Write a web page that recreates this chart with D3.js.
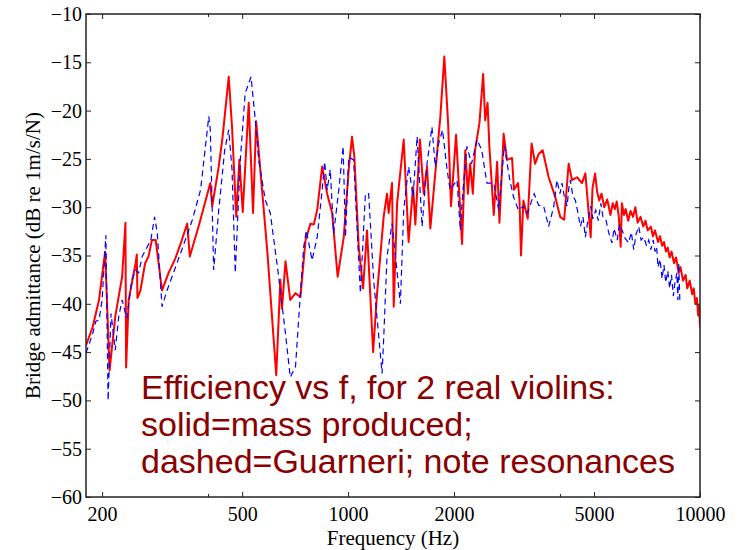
<!DOCTYPE html>
<html>
<head>
<meta charset="utf-8">
<script src="https://cdn.jsdelivr.net/npm/d3@7"></script>
<style>
  body { margin: 0; background: #fff; }
  svg { display: block; }
</style>
</head>
<body>
<div id="chart"></div>
<script>
// solid red = mass produced violin
const solidFreq = [180, 188, 196, 204, 210, 218, 228, 233, 234, 238, 249, 251, 252, 257, 265, 271, 277, 284, 296, 309,
  323, 337, 349, 355, 376, 406, 411, 429, 440, 458, 468, 481, 491, 502, 522, 537, 548, 589, 625, 642,
  649, 664, 685, 709, 732, 757, 782, 799, 817, 844, 872, 901, 934, 972, 1004, 1026, 1042, 1072, 1103, 1132,
  1178, 1209, 1262, 1290, 1304, 1333, 1348, 1378, 1439, 1486, 1530, 1553, 1600, 1640, 1676, 1713, 1769, 1829, 1877, 1924,
  1961, 2027, 2108, 2153, 2190, 2223, 2262, 2295, 2362, 2420, 2452, 2491, 2520, 2594, 2652, 2692, 2767, 2830, 2924, 2960,
  3040, 3070, 3100, 3149, 3240, 3322, 3400, 3479, 3572, 3715, 3876, 4006, 4112, 4234, 4328, 4473, 4621, 4724, 4891, 4950,
  5035, 5100, 5173, 5250, 5345, 5450, 5566, 5650, 5730, 5800, 5879, 5951, 6000, 6080, 6150, 6250, 6350, 6450, 6550, 6650,
  6775, 6900, 7000, 7100, 7250, 7350, 7450, 7600, 7700, 7800, 7900, 8000, 8100, 8200, 8300, 8440, 8550, 8700, 8800, 8950,
  9100, 9200, 9350, 9500, 9600, 9700, 9800, 9880, 9940, 10000];
const solidDb = [-44.3, -42.4, -39.6, -34.6, -46.9, -41.3, -37.2, -31.6, -46.6, -39.6, -35.8, -34.9, -39.4, -38.6, -35.8, -35.1, -33.4, -33.4, -38.6, -36.8,
  -35.3, -33.4, -31.7, -35.1, -32.0, -27.5, -29.9, -25.8, -22.7, -16.5, -21.7, -31.0, -25.1, -30.5, -19.2, -30.6, -21.1, -34.4, -47.4, -37.5,
  -40.5, -35.6, -39.6, -38.9, -39.3, -33.4, -31.7, -31.8, -30.3, -25.8, -28.6, -30.6, -37.2, -33.1, -26.1, -22.7, -24.8, -34.1, -38.4, -32.4,
  -45.0, -38.9, -31.0, -28.6, -30.6, -27.5, -40.3, -29.6, -23.0, -33.6, -27.9, -31.8, -23.0, -28.6, -25.8, -32.2, -26.5, -20.6, -14.4, -21.3,
  -29.9, -22.5, -33.8, -24.1, -28.6, -25.5, -28.6, -24.1, -21.3, -16.2, -21.0, -19.2, -23.7, -30.8, -25.3, -31.6, -22.4, -25.1, -24.9, -28.2,
  -27.5, -29.3, -35.0, -29.3, -31.2, -23.4, -25.5, -24.5, -24.1, -26.9, -28.9, -31.0, -31.3, -25.5, -27.2, -26.9, -27.5, -26.5, -33.1, -28.0,
  -26.5, -28.4, -29.3, -28.6, -30.0, -29.2, -30.8, -29.6, -30.2, -29.4, -31.0, -34.1, -29.6, -30.8, -30.2, -31.4, -30.4, -31.0, -30.0, -31.6,
  -31.0, -32.0, -31.4, -32.4, -32.0, -33.0, -32.4, -33.6, -33.0, -34.0, -33.6, -34.6, -34.2, -35.2, -34.6, -35.8, -35.2, -36.8, -36.2, -37.6,
  -37.0, -38.4, -37.6, -39.0, -38.4, -40.0, -39.4, -41.2, -40.2, -42.4];

// dashed blue = Guarneri
const dashedFreq = [180, 188, 192, 196, 200, 205, 208, 212, 218, 223, 228, 235, 243, 249, 254, 260, 275, 282, 287, 296,
  306, 316, 337, 361, 381, 402, 406, 415, 429, 446, 458, 468, 478, 494, 510, 530, 545, 557, 582, 601,
  635, 664, 685, 709, 732, 748, 761, 790, 817, 844, 858, 872, 890, 910, 941, 968, 983, 1004, 1037, 1084,
  1120, 1144, 1182, 1249, 1262, 1290, 1333, 1408, 1439, 1486, 1530, 1571, 1623, 1676, 1731, 1769, 1809, 1855, 1911, 1950,
  2040, 2084, 2121, 2176, 2243, 2326, 2398, 2480, 2594, 2680, 2779, 2875, 2950, 3048, 3149, 3233, 3379, 3479, 3595, 3715,
  3842, 3920, 4000, 4055, 4120, 4190, 4240, 4282, 4350, 4426, 4500, 4572, 4650, 4724, 4800, 4891, 4960, 5056, 5140, 5227,
  5300, 5403, 5500, 5620, 5700, 5818, 5900, 6010, 6120, 6270, 6380, 6483, 6580, 6700, 6800, 6923, 7050, 7150, 7250, 7364,
  7450, 7530, 7600, 7702, 7800, 7900, 7993, 8100, 8200, 8300, 8400, 8500, 8600, 8650, 8700, 8770];
const dashedDb = [-45.1, -43.1, -41.8, -41.7, -39.6, -32.9, -50.0, -41.0, -44.8, -41.3, -39.6, -41.5, -37.5, -36.5, -36.8, -35.1, -33.4, -31.0, -32.7, -40.3,
  -38.6, -37.2, -34.4, -31.3, -28.2, -20.6, -22.0, -36.5, -30.3, -24.1, -22.0, -26.1, -36.8, -25.1, -18.2, -16.5, -21.0, -25.1, -29.3, -30.6,
  -37.2, -43.1, -47.6, -46.5, -38.9, -34.1, -32.4, -35.5, -33.1, -28.2, -25.3, -28.2, -26.1, -32.7, -28.2, -23.7, -33.1, -24.8, -25.1, -38.9,
  -28.6, -28.6, -37.5, -47.2, -43.7, -35.1, -31.7, -40.0, -30.3, -25.8, -28.9, -22.7, -32.0, -25.5, -21.7, -25.8, -23.4, -22.0, -26.1, -28.2,
  -27.2, -32.4, -28.2, -23.7, -25.5, -23.0, -24.1, -27.5, -27.5, -30.3, -23.6, -27.0, -28.9, -30.3, -29.9, -30.6, -28.6, -29.8, -29.9, -32.0,
  -29.9, -27.2, -28.6, -27.5, -29.0, -29.9, -28.0, -27.2, -28.8, -29.3, -30.6, -32.0, -31.0, -33.1, -31.4, -29.9, -31.2, -30.3, -31.4, -29.6,
  -31.0, -31.3, -32.6, -33.7, -32.2, -33.4, -31.8, -32.4, -33.2, -33.7, -32.6, -34.4, -32.8, -32.0, -33.4, -33.1, -34.0, -33.4, -34.4, -33.4,
  -34.6, -34.1, -36.2, -35.4, -37.4, -36.0, -37.8, -36.6, -38.4, -37.0, -39.2, -37.6, -36.8, -39.6, -35.8, -40.0];

const xTicks = [200, 500, 1000, 2000, 5000, 10000];
const xMinorTicks = [400, 4000];
const yTicks = [-60, -55, -50, -45, -40, -35, -30, -25, -20, -15, -10];
const noteLines = ["Efficiency vs f, for 2 real violins:", "solid=mass produced;", "dashed=Guarneri; note resonances"];

const W = 738, H = 550;
const plot = { left: 86, right: 700, top: 14, bottom: 497 };
const serif = "'Liberation Serif', 'Times New Roman', serif";

const svg = d3.select("#chart").append("svg")
  .attr("width", W)
  .attr("height", H)
  .style("font-family", serif);

const x = d3.scaleLog().domain([180, 10000]).range([plot.left, plot.right]);
const y = d3.scaleLinear().domain([-60, -10]).range([plot.bottom, plot.top]);

svg.append("clipPath").attr("id", "clip")
  .append("rect")
  .attr("x", plot.left).attr("y", plot.top)
  .attr("width", plot.right - plot.left).attr("height", plot.bottom - plot.top);

// curves
const line = d3.line().x(d => x(d[0])).y(d => y(d[1]));
const solid = solidFreq.map((f, i) => [f, solidDb[i]]);
const dashed = dashedFreq.map((f, i) => [f, dashedDb[i]]);

const g = svg.append("g").attr("clip-path", "url(#clip)");
g.append("path")
  .datum(solid)
  .attr("d", line)
  .attr("fill", "none")
  .attr("stroke", "#ff0000")
  .attr("stroke-width", 2)
  .attr("stroke-linejoin", "round");
g.append("path")
  .datum(dashed)
  .attr("d", line)
  .attr("fill", "none")
  .attr("stroke", "#0000ff")
  .attr("stroke-width", 1.2)
  .attr("stroke-dasharray", "6,4");

// axes, ticks pointing inward like matlab
const styleAxis = sel => {
  sel.select(".domain").remove();
  sel.selectAll(".tick line").attr("stroke", "#222").attr("stroke-width", 1);
  sel.selectAll("text").attr("fill", "#000").style("font-size", "20px").style("font-family", serif);
};

svg.append("g")
  .attr("transform", `translate(0,${plot.bottom})`)
  .call(d3.axisBottom(x).tickValues(xTicks).tickFormat(d3.format("d")).tickSizeInner(-5).tickSizeOuter(0).tickPadding(10))
  .call(styleAxis);
svg.append("g")
  .attr("transform", `translate(0,${plot.bottom})`)
  .call(d3.axisBottom(x).tickValues(xMinorTicks).tickFormat("").tickSizeInner(-3).tickSizeOuter(0))
  .call(styleAxis);
svg.append("g")
  .attr("transform", `translate(0,${plot.top})`)
  .call(d3.axisTop(x).tickValues(xTicks).tickFormat("").tickSizeInner(-5).tickSizeOuter(0))
  .call(styleAxis);
svg.append("g")
  .attr("transform", `translate(0,${plot.top})`)
  .call(d3.axisTop(x).tickValues(xMinorTicks).tickFormat("").tickSizeInner(-3).tickSizeOuter(0))
  .call(styleAxis);
svg.append("g")
  .attr("transform", `translate(${plot.left},0)`)
  .call(d3.axisLeft(y).tickValues(yTicks).tickSizeInner(-5).tickSizeOuter(0).tickPadding(4))
  .call(styleAxis);
svg.append("g")
  .attr("transform", `translate(${plot.right},0)`)
  .call(d3.axisRight(y).tickValues(yTicks).tickFormat("").tickSizeInner(-5).tickSizeOuter(0))
  .call(styleAxis);

// frame
svg.append("rect")
  .attr("x", plot.left).attr("y", plot.top)
  .attr("width", plot.right - plot.left).attr("height", plot.bottom - plot.top)
  .attr("fill", "none")
  .attr("stroke", "#222")
  .attr("stroke-width", 1.5);

// axis titles
svg.append("text")
  .attr("x", (plot.left + plot.right) / 2)
  .attr("y", 545)
  .attr("text-anchor", "middle")
  .style("font-size", "21px")
  .text("Frequency (Hz)");
svg.append("text")
  .attr("transform", `translate(40,${(plot.top + plot.bottom) / 2}) rotate(-90)`)
  .attr("text-anchor", "middle")
  .style("font-size", "21px")
  .text("Bridge admittance (dB re 1m/s/N)");

// annotation
svg.append("g")
  .selectAll("text")
  .data(noteLines)
  .join("text")
  .attr("x", 141)
  .attr("y", (d, i) => 399 + i * 37)
  .attr("fill", "#8b0000")
  .style("font-family", "'Liberation Sans', Arial, sans-serif")
  .style("font-size", "34px")
  .text(d => d);
</script>
</body>
</html>
